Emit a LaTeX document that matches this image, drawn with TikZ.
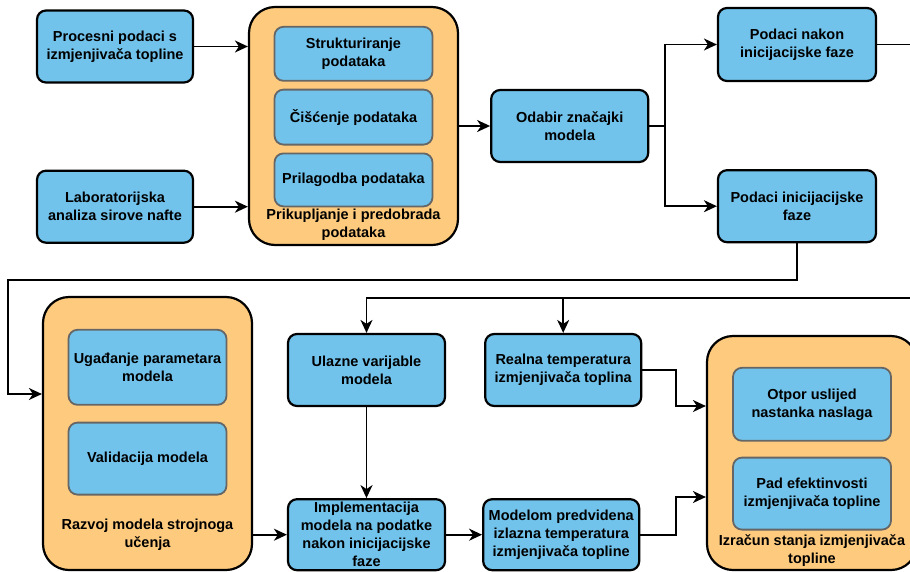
\documentclass[tikz,border=0pt]{standalone}
\usepackage{fontspec}
\setmainfont{Liberation Sans}
\usetikzlibrary{positioning}
\usetikzlibrary{calc}
\usetikzlibrary{arrows.meta}
\definecolor{boxblue}{HTML}{71C3EC}
\definecolor{grporange}{HTML}{FECB7E}

\begin{document}
\begin{tikzpicture}[x=1pt, y=-1pt,
    every node/.style={font=\bfseries\fontsize{14.5}{18}\selectfont, align=center},
    BLK/.style={rectangle, rounded corners=9pt, draw=black, fill=boxblue, line width=2.2pt, minimum width=156pt, minimum height=72pt, inner sep=2pt},
    SUB/.style={rectangle, rounded corners=9pt, draw=black!60, fill=boxblue, line width=1.8pt, minimum width=158pt, inner sep=2pt},
    GRP/.style={rectangle, rounded corners=26pt, draw=black, fill=grporange, line width=2.2pt, minimum width=209pt},
    LBL/.style={inner sep=0pt},
    arr/.style={-{Stealth[length=13pt, width=12pt, inset=4pt]}, line width=1.8pt},
    ]
        \useasboundingbox (0,0) rectangle (910,571);

        \node[BLK] (proc) at (115,46.5) {Procesni podaci s\\izmjenjivača topline};
        \node[BLK, below = 86pt of proc] (lab) {Laboratorijska\\analiza sirove nafte};

        \node[GRP, minimum height=238pt] (prik) at (353.5,126) {};
        \node[SUB, minimum height=54pt, below = 20pt of prik.north] (strukt) {Strukturiranje\\podataka};
        \node[SUB, minimum height=55pt, below = 7pt of strukt] (cisc) {Čišćenje podataka};
        \node[SUB, minimum height=53pt, below = 7pt of cisc] (prilag) {Prilagodba podataka};
        \node[LBL, above = 5pt of prik.south] (prikLbl) {Prikupljanje i predobrada\\podataka};

        \node[BLK, minimum width=157pt, right = 31pt of prik] (odabir) {Odabir značajki\\modela};
        \node[BLK, minimum width=158pt, minimum height=73pt] (nakon) at (797,44.5) {Podaci nakon\\inicijacijske faze};
        \node[BLK, minimum width=158pt, below = 87pt of nakon] (inic) {Podaci inicijacijske\\faze};

        \node[GRP, minimum height=273pt] (razvoj) at (147.5,433.5) {};
        \node[SUB, minimum height=75pt, below = 33pt of razvoj.north] (ugad) {Ugađanje parametara\\modela};
        \node[SUB, minimum height=72pt, below = 16pt of ugad] (valid) {Validacija modela};
        \node[LBL, above = 20pt of razvoj.south] (razvojLbl) {Razvoj modela strojnoga\\učenja};

        \node[BLK, minimum width=157pt] (ulazne) at (366.5,370) {Ulazne varijable\\modela};
        \node[BLK, minimum width=157pt, minimum height=71pt, below = 91pt of ulazne] (impl) {Implementacija\\modela na podatke\\nakon inicijacijske\\faze};
        \node[BLK, right = 38pt of ulazne] (realna) {Realna temperatura\\izmjenjivača toplina};
        \node[BLK, minimum height=71pt, right = 36pt of impl] (modelom) {Modelom predvidena\\izlazna temperatura\\izmjenjivača topline};

        \node[GRP, minimum width=210pt, minimum height=234pt] (izracun) at (812,453) {};
        \node[SUB, minimum height=73pt, below = 32pt of izracun.north] (otpor) {Otpor uslijed\\nastanka naslaga};
        \node[SUB, minimum height=72pt, below = 15pt of otpor] (pad) {Pad efektinvosti\\izmjenjivača topline};
        \node[LBL, above = 4pt of izracun.south] (izracunLbl) {Izračun stanja izmjenjivača\\topline};

        \coordinate[right = 16pt of odabir.east] (split);
        \coordinate (wrapL) at (8,280);
        \coordinate (wrapR) at (925,298);

        \draw[arr] (proc.east) -- (proc.east -| prik.west);
        \draw[arr] (lab.east) -- (lab.east -| prik.west);
        \draw[arr] (prik.east) -- (odabir.west);
        \draw[line width=1.8pt] (odabir.east) -- (split);
        \draw[arr] (split) |- (nakon.west);
        \draw[arr] (split) |- (inic.west);
        \draw[arr] (inic.south) |- (wrapL) |- ([yshift=39.5pt] razvoj.west);
        \draw[arr] (nakon.east) -| (wrapR) -| (ulazne.north);
        \draw[arr] (realna.north |- wrapR) -- (realna.north);
        \draw[arr] (ulazne.south) -- (impl.north);
        \draw[arr] (razvoj.east |- impl) -- (impl.west);
        \draw[arr] (impl.east) -- (modelom.west);
        \draw[arr] (realna.east) -- ++(34pt,0) |- ([yshift=47pt] izracun.west);
        \draw[arr] (modelom.east) -- ++(36pt,0) |- ([yshift=-44pt] izracun.west);
    \end{tikzpicture}
\end{document}
